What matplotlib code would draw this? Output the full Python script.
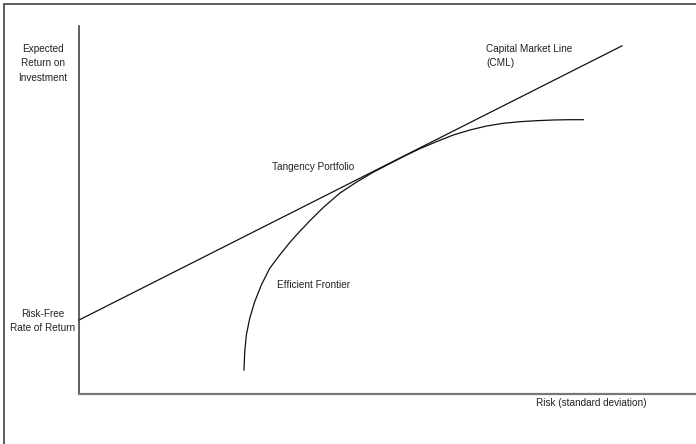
import matplotlib
matplotlib.use("Agg")
import matplotlib.pyplot as plt
from matplotlib.patches import Rectangle

# ---- data (arbitrary units: risk 0-100, return 0-100) ----
cml_risk = [0.0, 88.0]
cml_return = [20.1, 94.6]

frontier_risk = [26.74, 26.86, 27.12, 27.67, 28.48, 29.55, 30.91, 32.53, 34.15, 35.33,
                 37.44, 39.59, 42.30, 45.01, 47.70, 50.41, 53.11, 55.27, 57.97, 60.66,
                 63.37, 66.08, 68.77, 71.47, 74.18, 76.87, 79.58, 81.73]
frontier_return = [6.52, 11.49, 16.03, 20.57, 25.08, 29.62, 34.16, 37.77, 41.14, 43.37,
                   47.12, 50.68, 54.62, 57.61, 60.27, 62.64, 64.95, 66.68, 68.59, 70.38,
                   71.74, 72.83, 73.56, 74.00, 74.27, 74.46, 74.54, 74.54]

y_label = "Expected\nReturn on\nInvestment"
rf_label = "Risk-Free\nRate of Return"
x_label = "Risk (standard deviation)"
cml_label = "Capital Market Line\n(CML)"
tangency_label = "Tangency Portfolio"
frontier_label = "Efficient Frontier"

plt.rcParams['font.family'] = ['Liberation Sans', 'DejaVu Sans']
fs = 7.2

W, H = 696, 444
fig = plt.figure(figsize=(W / 100, H / 100), dpi=100)
fig.patch.set_facecolor('white')

# axes occupying pixel box x 79..696, y 26..394
ax = fig.add_axes([79 / W, 1 - 394 / H, (696 - 79) / W, (394 - 26) / H])
ax.set_xlim(0, 100)
ax.set_ylim(0, 100)
ax.set_xticks([])
ax.set_yticks([])
for s in ['top', 'right']:
    ax.spines[s].set_visible(False)
ax.spines['left'].set_color('#333333')
ax.spines['left'].set_linewidth(1.1)
ax.spines['bottom'].set_color('#777777')
ax.spines['bottom'].set_linewidth(1.6)
ax.patch.set_alpha(0)

ax.plot(cml_risk, cml_return, color='#111111', lw=0.9, clip_on=False)
ax.plot(frontier_risk, frontier_return, color='#111111', lw=0.9, clip_on=False,
        solid_joinstyle='round')

# border of whole figure (extends past right and bottom edges)
fig.patches.append(Rectangle((3.5 / W, -0.1), 1.2, 1.1 - 4 / H, transform=fig.transFigure,
                             fill=False, edgecolor='#333333', lw=1.1))

def px(x, y):
    return (x / W, 1 - y / H)

tc = '#222222'
fig.text(*px(43, 63.5), y_label, ha='center', va='center', fontsize=fs, color=tc, linespacing=1.6)
fig.text(*px(43, 321), rf_label, ha='center', va='center', fontsize=fs, color=tc, linespacing=1.5)
fig.text(*px(486.5, 56), cml_label, ha='left', va='center', fontsize=fs, color=tc, linespacing=1.6)
fig.text(*px(272.5, 167), tangency_label, ha='left', va='center', fontsize=fs, color=tc)
fig.text(*px(277, 284.5), frontier_label, ha='left', va='center', fontsize=fs, color=tc)
fig.text(*px(591, 403), x_label, ha='center', va='center', fontsize=fs, color=tc)

fig.savefig('out.png', dpi=100)
